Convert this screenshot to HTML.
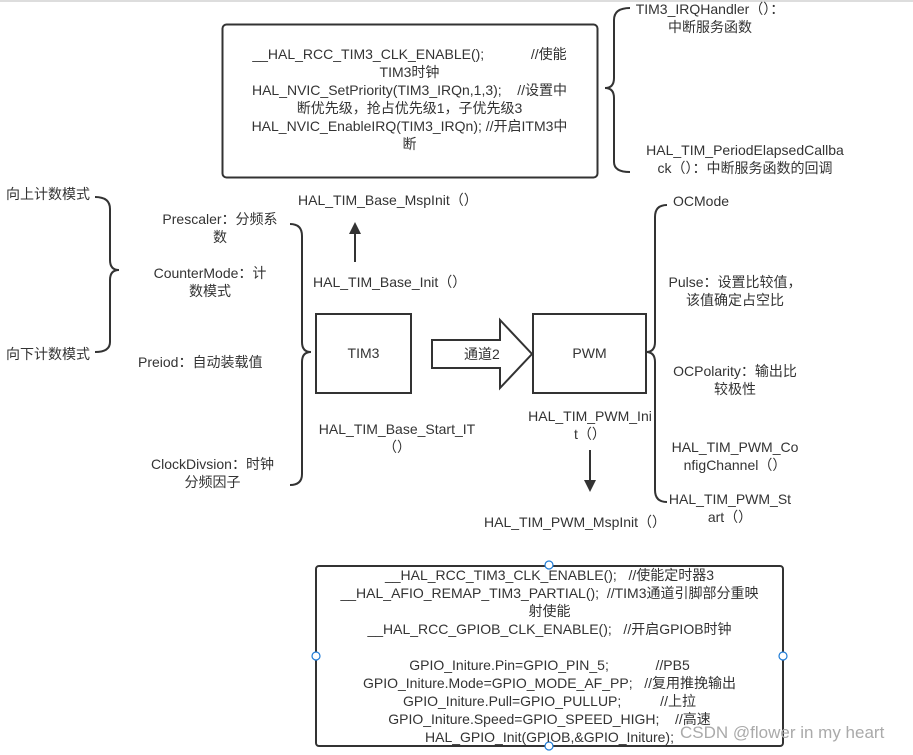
<!DOCTYPE html>
<html><head><meta charset="utf-8"><style>
body{margin:0;width:913px;height:755px;background:#fff;position:relative;overflow:hidden;font-family:"Liberation Sans","Noto Sans CJK SC",sans-serif;font-size:14px;color:#333}
.t{position:absolute;text-align:center;line-height:18px;white-space:nowrap}
</style></head><body>
<svg width="913" height="755" style="position:absolute;left:0;top:0">
<line x1="0" y1="1" x2="913" y2="1" stroke="#bbb"/>
<rect x="222.5" y="24.5" width="375" height="153" rx="4" fill="none" stroke="#333" stroke-width="2"/>
<rect x="316" y="314" width="95" height="79" fill="none" stroke="#333" stroke-width="2"/>
<rect x="533" y="314" width="113" height="79" fill="none" stroke="#333" stroke-width="2"/>
<rect x="316" y="566" width="467" height="180" rx="3" fill="none" stroke="#333" stroke-width="2"/>
<g fill="#fff" stroke="#1e7bd6" stroke-width="1.2"><circle cx="549" cy="565" r="4"/><circle cx="549" cy="746" r="4"/><circle cx="316" cy="656" r="4"/><circle cx="783" cy="656" r="4"/></g>
<g fill="none" stroke="#333" stroke-width="2">
<path d="M630 8 Q614 8 614 20 V78 Q614 88 605 88 Q614 88 614 98 V162 Q614 172 630 172"/>
<path d="M95 197 Q110 197 110 209 V260 Q110 270 119 270 Q110 270 110 280 V342 Q110 352 95 352"/>
<path d="M290 224 Q302 224 302 236 V342 Q302 352 311 352 Q302 352 302 362 V474 Q302 485 290 485"/>
<path d="M667 205 Q655 205 655 217 V342 Q655 352 646 352 Q655 352 655 362 V490 Q655 502 667 502"/>
<line x1="355" y1="262" x2="355" y2="232"/>
<line x1="590" y1="450" x2="590" y2="482"/>
<path d="M432 340 H500 V320 L532 354 L500 388 V368 H432 Z"/>
</g>
<polygon points="349,234 361,234 355,222" fill="#333"/>
<polygon points="584,480 596,480 590,492" fill="#333"/>
</svg>
<div class="t" style="left:222px;top:45px;width:375px">__HAL_RCC_TIM3_CLK_ENABLE();&nbsp;&nbsp;&nbsp;&nbsp;&nbsp;&nbsp;&nbsp;&nbsp;&nbsp;&nbsp;&nbsp; //使能<br>TIM3时钟<br>HAL_NVIC_SetPriority(TIM3_IRQn,1,3);&nbsp;&nbsp;&nbsp; //设置中<br>断优先级，抢占优先级1，子优先级3<br>HAL_NVIC_EnableIRQ(TIM3_IRQn); //开启ITM3中<br>断</div>
<div class="t" style="left:620px;top:0px;width:180px">TIM3_IRQHandler（）：<br>中断服务函数</div>
<div class="t" style="left:630px;top:141px;width:230px">HAL_TIM_PeriodElapsedCallba<br>ck（）：中断服务函数的回调</div>
<div class="t" style="left:6px;top:185px">向上计数模式</div>
<div class="t" style="left:6px;top:345px">向下计数模式</div>
<div class="t" style="left:150px;top:210px;width:140px">Prescaler：分频系<br>数</div>
<div class="t" style="left:140px;top:264px;width:140px">CounterMode：计<br>数模式</div>
<div class="t" style="left:138px;top:353px">Preiod：自动装载值</div>
<div class="t" style="left:140px;top:455px;width:145px">ClockDivsion：时钟<br>分频因子</div>
<div class="t" style="left:298px;top:191px">HAL_TIM_Base_MspInit（）</div>
<div class="t" style="left:313px;top:273px">HAL_TIM_Base_Init（）</div>
<div class="t" style="left:316px;top:344px;width:95px">TIM3</div>
<div class="t" style="left:533px;top:344px;width:113px">PWM</div>
<div class="t" style="left:464px;top:345px">通道2</div>
<div class="t" style="left:312px;top:420px;width:170px">HAL_TIM_Base_Start_IT<br>（）</div>
<div class="t" style="left:520px;top:407px;width:140px">HAL_TIM_PWM_Ini<br>t（）</div>
<div class="t" style="left:484px;top:513px">HAL_TIM_PWM_MspInit（）</div>
<div class="t" style="left:673px;top:192px">OCMode</div>
<div class="t" style="left:660px;top:273px;width:150px">Pulse：设置比较值，<br>该值确定占空比</div>
<div class="t" style="left:660px;top:362px;width:150px">OCPolarity：输出比<br>较极性</div>
<div class="t" style="left:660px;top:438px;width:150px">HAL_TIM_PWM_Co<br>nfigChannel（）</div>
<div class="t" style="left:660px;top:490px;width:140px">HAL_TIM_PWM_St<br>art（）</div>
<div class="t" style="left:316px;top:566px;width:467px;line-height:18px">__HAL_RCC_TIM3_CLK_ENABLE();&nbsp;&nbsp; //使能定时器3<br>__HAL_AFIO_REMAP_TIM3_PARTIAL();&nbsp; //TIM3通道引脚部分重映<br>射使能<br>__HAL_RCC_GPIOB_CLK_ENABLE();&nbsp;&nbsp; //开启GPIOB时钟<br>&nbsp;<br>GPIO_Initure.Pin=GPIO_PIN_5;&nbsp;&nbsp;&nbsp;&nbsp;&nbsp;&nbsp;&nbsp;&nbsp;&nbsp;&nbsp;&nbsp; //PB5<br>GPIO_Initure.Mode=GPIO_MODE_AF_PP;&nbsp;&nbsp; //复用推挽输出<br>GPIO_Initure.Pull=GPIO_PULLUP;&nbsp;&nbsp;&nbsp;&nbsp;&nbsp;&nbsp;&nbsp;&nbsp;&nbsp; //上拉<br>GPIO_Initure.Speed=GPIO_SPEED_HIGH;&nbsp;&nbsp;&nbsp; //高速<br>HAL_GPIO_Init(GPIOB,&amp;GPIO_Initure);</div>
<div class="t" style="left:680px;top:724px;font-size:17px;color:#aaa">CSDN @flower in my heart</div>
</body></html>
